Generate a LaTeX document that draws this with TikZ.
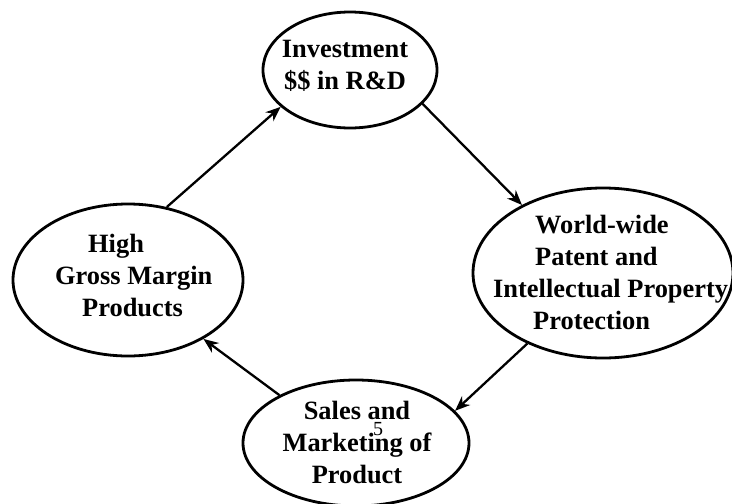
\documentclass[tikz,border=0pt]{standalone}
\usepackage{fontspec}
\setmainfont{Liberation Serif}
\usetikzlibrary{arrows.meta,shapes.geometric}
\begin{document}
\begin{tikzpicture}[x=1pt,y=-1pt,
  bubble/.style={draw=black, line width=2.8pt, shape=ellipse, inner sep=0pt},
  label/.style={font=\bfseries\fontsize{26.4}{32}\selectfont, inner sep=0pt},
  flow/.style={line width=2.3pt, -{Stealth[length=15pt,width=12pt]}}]
\useasboundingbox (0,0) rectangle (732,504);
\clip (0,0) rectangle (732,504);

% the four stages of the cycle
\node[bubble, minimum width=174pt, minimum height=116pt] (rd) at (350,70) {};
\node[bubble, minimum width=230pt, minimum height=152pt] (gm) at (128,280) {};
\node[bubble, minimum width=260pt, minimum height=170pt] (ip) at (603,273) {};
\node[bubble, minimum width=226pt, minimum height=126pt] (sm) at (356,443) {};

% stage texts
\node[label, align=center] (rdt) at (345,66) {Investment\\\$\$ in R\&D};
\node[label, align=left, anchor=west] (gmt) at (55,275)
  {\hspace*{33pt}High\\Gross Margin\\\hspace*{27pt}Products};
\node[label, align=left, anchor=west] (ipt) at (493,272)
  {\hspace*{42pt}World-wide\\\hspace*{42pt}Patent and\\Intellectual Property\\\hspace*{40pt}Protection};
\node[label, align=center] (smt) at (357,442) {Sales and\\Marketing of\\Product};

% page number
\node[font=\fontsize{20}{20}\selectfont, inner sep=0pt] (pg) at (378,429) {5};

% cycle arrows
\draw[flow] (gm.62) -- (rd.208);
\draw[flow] (rd.-25) -- (ip.140);
\draw[flow] (ip.223) -- (sm.18);
\draw[flow] (sm.148) -- (gm.-38);
\end{tikzpicture}
\end{document}
